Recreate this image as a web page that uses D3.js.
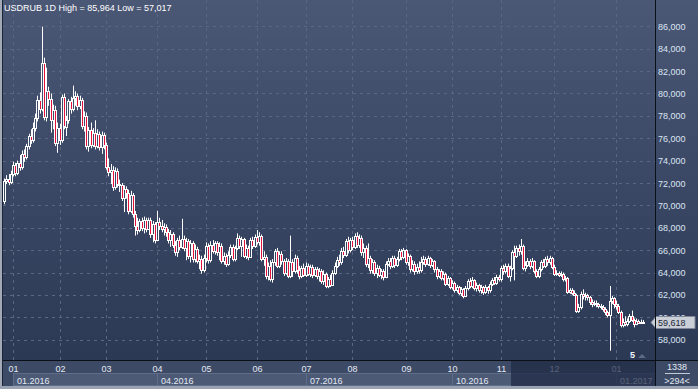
<!DOCTYPE html>
<html>
<head>
<meta charset="utf-8">
<script src="https://cdn.jsdelivr.net/npm/d3@7"></script>
<style>
  body { margin: 0; background: #2c3955; }
  svg { display: block; font-family: "Liberation Sans", Arial, sans-serif; }
</style>
</head>
<body>
<div id="chart"></div>
<script>
var title = "USDRUB 1D High = 85,964 Low = 57,017";

// daily candles, late Dec 2015 .. mid Jan 2017
var openP = [70.4,72.2,72.4,72.1,
  72.8,73.6,72.9,73.8,73.4,74.6,74.3,75.3,76.2,75.8,76.9,77.8,79.4,78.6,82.7,77.9,80.2,79.5,77.6,78.5,75.6,
  76.9,75.8,79.7,77.0,77.6,79.3,78.6,79.6,79.8,78.9,79.4,77.1,78.0,75.3,76.7,75.4,76.5,75.3,76.4,75.2,76.3,
  75.4,73.4,73.0,73.2,71.6,73.1,71.9,71.8,70.7,71.5,71.1,69.5,70.9,69.2,68.2,67.8,68.6,68.0,68.7,67.9,68.7,67.4,68.3,
  66.9,68.5,68.2,67.9,68.1,67.6,66.9,67.4,66.5,65.8,66.9,66.3,67.0,66.2,66.8,65.5,66.6,65.2,66.1,65.0,65.2,64.2,
  65.3,66.4,65.1,66.5,65.9,66.6,65.8,66.4,65.0,65.5,64.8,65.6,66.3,65.2,66.2,67.1,66.4,67.0,65.5,66.2,65.4,66.9,66.4,
  67.2,66.7,67.3,65.2,65.4,63.7,64.6,63.4,64.9,65.9,64.6,65.7,65.0,64.0,65.0,63.7,64.9,64.1,65.3,64.2,63.7,64.4,
  63.8,64.6,63.9,64.5,63.8,64.3,63.7,64.1,63.2,63.9,62.8,63.4,62.9,64.0,64.6,65.1,64.9,65.9,65.6,66.8,66.0,
  66.9,66.3,67.3,66.5,67.1,65.8,66.2,64.8,65.3,64.2,64.9,64.0,64.4,63.8,64.1,63.6,64.8,65.0,64.6,65.3,64.7,65.2,65.9,65.4,
  66.0,64.9,65.5,64.3,64.8,64.1,64.5,64.2,64.9,65.2,64.8,65.3,64.7,65.0,64.3,63.7,64.1,63.5,63.9,63.0,63.5,
  62.7,63.1,62.4,62.7,62.2,62.5,61.9,62.6,63.2,62.8,63.3,62.6,62.9,62.4,62.7,62.3,62.7,62.4,63.0,63.3,63.1,63.6,
  63.4,64.4,64.1,64.6,63.7,64.4,65.8,65.5,66.2,65.9,66.4,64.4,64.7,65.0,64.6,65.0,64.1,63.7,64.3,64.9,64.6,65.2,64.9,65.3,
  64.5,63.9,64.0,63.8,63.9,63.4,63.5,62.3,62.4,62.2,62.0,60.6,60.9,62.1,61.9,62.0,61.8,61.4,61.2,61.3,61.2,61.0,60.9,60.7,60.5,60.2,61.5,61.7,
  61.2,61.0,60.5,59.3,59.6,59.4,59.7,60.1,59.8,59.4,59.7,59.5,59.6];

var highP = [72.4,72.7,72.8,73.1,
  73.9,73.8,74.0,74.5,74.9,75.0,75.5,76.4,76.8,77.4,78.2,79.8,80.1,85.964,83.2,82.3,80.6,80.0,79.0,78.9,77.4,
  77.3,79.9,80.0,78.0,79.5,79.7,80.7,80.2,80.0,79.8,79.6,78.4,78.3,77.0,77.4,76.9,77.6,76.8,76.6,76.6,76.5,
  75.6,74.2,73.7,73.5,73.4,73.3,72.3,72.0,71.8,71.7,71.4,71.3,71.1,69.5,68.9,68.8,68.9,69.0,68.9,68.9,68.9,68.6,68.5,
  69.5,68.9,68.7,68.4,68.3,67.9,67.8,67.6,66.8,67.1,67.3,68.8,67.3,67.1,67.0,66.9,66.8,66.5,66.3,65.6,65.5,65.6,
  66.7,66.6,66.8,66.9,66.8,66.8,66.7,66.6,65.8,65.7,65.9,66.5,66.5,66.4,67.5,67.3,67.2,67.1,66.5,66.4,67.1,67.2,67.4,
  67.8,67.6,67.4,65.9,65.6,64.9,65.1,65.2,66.1,66.2,65.9,65.9,65.2,65.3,65.2,67.3,65.2,65.6,65.5,64.6,64.6,64.8,
  64.9,64.8,64.7,64.7,64.5,64.5,64.4,64.3,64.2,64.0,63.6,63.8,64.2,64.9,65.4,65.6,66.2,66.3,67.0,67.2,67.1,
  67.2,67.5,67.6,67.4,67.3,66.6,66.4,66.6,65.5,65.2,65.1,64.7,64.6,64.3,64.3,65.0,65.3,65.3,65.5,65.5,65.4,66.1,66.1,66.2,
  66.1,65.7,65.6,65.1,65.0,64.8,65.0,65.4,65.5,65.4,65.5,65.4,65.2,65.1,64.5,64.3,64.3,64.1,64.0,63.7,63.6,
  63.3,63.2,62.9,62.8,62.7,62.6,62.8,63.4,63.5,63.6,63.4,63.1,63.0,62.9,62.8,62.9,62.8,63.2,63.5,63.6,63.8,63.8,
  64.6,64.7,64.8,64.8,64.6,66.0,66.4,66.4,66.5,67.0,66.5,65.0,65.3,65.2,65.3,65.1,64.3,64.5,65.1,65.2,65.4,65.5,65.5,65.4,
  64.7,64.2,64.1,64.1,64.0,63.7,63.6,62.6,62.6,62.4,62.1,61.2,62.3,62.5,62.2,62.1,61.9,61.6,61.5,61.5,61.3,61.2,61.1,60.9,60.6,62.8,61.9,61.8,
  61.5,61.2,60.6,59.9,60.1,59.9,60.3,60.6,59.9,59.9,59.8,59.8,59.75];

var lowP = [70.1,71.9,71.8,71.9,
  72.6,72.6,72.7,73.1,73.2,73.9,74.1,75.0,75.5,75.6,76.6,77.5,78.2,78.4,77.6,77.5,78.9,76.5,76.8,75.3,74.7,
  75.4,75.6,76.8,76.2,77.3,78.2,78.4,78.9,78.5,78.6,76.8,76.6,75.0,74.8,75.1,75.2,75.0,75.1,74.9,74.6,75.0,
  73.2,72.6,71.9,71.3,71.4,71.6,71.2,70.4,69.4,70.6,69.2,69.3,68.9,67.3,67.4,67.6,67.7,67.5,67.6,67.8,67.1,66.7,66.6,
  66.8,67.8,67.6,67.3,67.2,66.6,66.3,66.2,65.5,65.4,66.0,66.1,65.9,65.1,65.2,64.9,64.9,64.9,64.8,64.3,63.9,64.0,
  64.9,64.8,64.9,65.7,65.6,65.5,65.1,64.8,64.7,64.5,64.6,65.3,65.0,65.0,66.0,66.1,65.4,65.3,65.2,65.1,65.3,66.1,66.2,
  66.5,66.4,65.0,64.6,63.4,63.3,63.2,63.1,64.6,64.4,64.4,64.7,63.7,63.8,63.5,63.5,63.6,63.9,63.9,63.4,63.5,63.6,
  63.6,63.7,63.6,63.5,63.6,63.4,63.2,63.0,62.9,62.6,62.6,62.7,62.8,63.8,64.4,64.6,64.7,65.3,65.4,65.7,65.8,
  66.0,66.1,66.2,66.2,65.5,65.3,64.5,64.4,63.9,63.9,63.7,63.5,63.6,63.4,63.3,63.5,64.6,64.3,64.4,64.4,64.5,65.0,65.1,65.2,
  64.7,64.6,64.0,64.1,63.8,63.9,63.9,64.0,64.7,64.5,64.6,64.4,64.5,64.0,63.4,63.5,63.3,63.3,62.8,62.8,62.5,
  62.5,62.2,62.2,62.0,61.9,61.7,61.8,62.4,62.6,62.6,62.4,62.3,62.2,62.1,62.0,62.1,62.1,62.2,62.8,62.9,62.9,63.2,
  63.2,63.8,63.9,63.5,63.2,64.2,63.3,65.3,65.5,65.6,64.2,64.1,64.5,64.3,64.4,63.9,63.5,63.5,64.1,64.4,64.4,64.6,64.7,64.3,
  63.7,63.7,63.6,63.6,63.2,63.2,62.1,62.1,62.0,61.9,60.4,60.4,60.7,61.6,61.5,61.5,61.1,60.9,61.0,60.9,60.8,60.7,60.5,60.2,60.0,57.017,61.2,60.8,
  60.7,60.3,59.1,59.1,59.2,59.2,59.5,59.6,59.1,59.3,59.4,59.4,59.5];

var closeP = [72.2,72.4,72.1,72.8,
  73.6,72.9,73.8,73.4,74.6,74.3,75.3,76.2,75.8,76.9,77.8,79.4,78.6,82.7,77.9,80.2,79.5,77.6,78.5,75.6,76.9,
  75.8,79.7,77.1,77.6,79.3,78.6,79.6,79.8,78.9,79.4,77.1,78.0,75.3,76.7,75.4,76.5,75.3,76.4,75.2,76.3,75.4,
  73.4,73.0,73.2,71.6,73.1,71.9,71.8,70.7,71.5,71.1,69.5,70.9,69.2,68.2,67.8,68.6,68.0,68.7,67.9,68.7,67.4,68.3,66.9,
  68.5,68.2,67.9,68.1,67.6,66.9,67.4,66.5,65.8,66.9,66.3,67.0,66.2,66.8,65.5,66.6,65.2,66.1,65.0,65.2,64.2,65.3,
  66.4,65.1,66.5,65.9,66.6,65.8,66.4,65.0,65.5,64.8,65.6,66.3,65.2,66.2,67.1,66.4,67.0,65.5,66.2,65.4,66.9,66.4,67.2,
  66.7,67.3,65.2,65.4,63.7,64.6,63.4,64.9,65.9,64.6,65.7,65.0,64.0,65.0,63.7,64.9,64.1,65.3,64.2,63.7,64.4,63.8,
  64.6,63.9,64.5,63.8,64.3,63.7,64.1,63.2,63.9,62.8,63.4,62.9,64.0,64.6,65.1,64.9,65.9,65.6,66.8,66.0,66.9,
  66.3,67.3,66.5,67.1,65.8,66.2,64.8,65.3,64.2,64.9,64.0,64.4,63.8,64.1,63.6,64.8,65.0,64.6,65.3,64.7,65.2,65.9,65.4,66.0,
  64.9,65.5,64.3,64.8,64.1,64.5,64.2,64.9,65.2,64.8,65.3,64.7,65.0,64.3,63.7,64.1,63.5,63.9,63.0,63.5,62.7,
  63.1,62.4,62.7,62.2,62.5,61.9,62.6,63.2,62.8,63.3,62.6,62.9,62.4,62.7,62.3,62.7,62.4,63.0,63.3,63.1,63.6,63.4,
  64.4,64.1,64.6,63.7,64.4,65.8,65.5,66.2,65.9,66.4,64.4,64.7,65.0,64.6,65.0,64.1,63.7,64.3,64.9,64.6,65.2,64.9,65.3,64.5,
  63.9,64.0,63.8,63.9,63.4,63.5,62.3,62.4,62.2,62.0,60.6,60.9,62.1,61.9,62.0,61.8,61.4,61.2,61.3,61.2,61.0,60.9,60.7,60.5,60.2,61.5,61.7,61.2,
  61.0,60.5,59.3,59.6,59.4,59.7,60.1,59.8,59.4,59.7,59.5,59.6,59.618];

// first bar of each month (bar index) and its label
var monthStart = [4, 25, 46, 69, 91, 114, 136, 157, 181, 202, 224, 248, 276];
var monthLabels = ["01","02","03","04","05","06","07","08","09","10","11","12","01"];
var quarterMonth = [0, 3, 6, 9, 12];
var quarterLabels = ["01.2016","04.2016","07.2016","10.2016","01.2017"];
var yTicks = [58,60,62,64,66,68,70,72,74,76,78,80,82,84,86];
var slots = 294;

var width = 698, height = 389,
    plotL = 3, plotR = 655, plotB = 360;

var svg = d3.select("#chart").append("svg")
    .attr("width", width)
    .attr("height", height);

var defs = svg.append("defs");
var grad = defs.append("linearGradient")
    .attr("id", "bg")
    .attr("gradientUnits", "userSpaceOnUse")
    .attr("x1", 0).attr("y1", 0).attr("x2", 0).attr("y2", plotB);
grad.append("stop").attr("offset", 0).attr("stop-color", "#4a5775");
grad.append("stop").attr("offset", 1).attr("stop-color", "#2c3955");

svg.append("rect").attr("width", width).attr("height", plotB).attr("fill", "url(#bg)");

var x = d3.scaleBand().domain(d3.range(slots)).range([plotL, plotR]);
var y = d3.scaleLinear().domain([58, 86]).range([339.7, 26.3]);
var cx = function(i) { return Math.round(x(i) + x.bandwidth() / 2); };
var fmt = function(v) { return v.toFixed(3).replace(".", ","); };

// grid
svg.append("g").selectAll("line")
    .data(yTicks).enter().append("line")
    .attr("x1", plotL).attr("x2", plotR)
    .attr("y1", function(d) { return Math.round(y(d)) + 0.5; })
    .attr("y2", function(d) { return Math.round(y(d)) + 0.5; })
    .attr("stroke", "#5a6783").attr("stroke-dasharray", "3,4");

svg.append("g").selectAll("line")
    .data(monthStart).enter().append("line")
    .attr("x1", function(d) { return cx(d) + 0.5; })
    .attr("x2", function(d) { return cx(d) + 0.5; })
    .attr("y1", 0).attr("y2", plotB)
    .attr("stroke", "#5a6783").attr("stroke-dasharray", "3,4");

// candles
var bars = d3.range(closeP.length);
var cg = svg.append("g");
cg.selectAll("line")
    .data(bars).enter().append("line")
    .attr("x1", function(i) { return cx(i) + 0.5; })
    .attr("x2", function(i) { return cx(i) + 0.5; })
    .attr("y1", function(i) { return y(highP[i]); })
    .attr("y2", function(i) { return y(lowP[i]); })
    .attr("stroke", "#ffffff");

cg.selectAll("rect")
    .data(bars).enter().append("rect")
    .attr("x", function(i) { return cx(i) - 0.5; })
    .attr("y", function(i) { return Math.round(y(Math.max(openP[i], closeP[i]))) + 0.5; })
    .attr("width", 2)
    .attr("height", function(i) {
      return Math.max(1, Math.round(y(Math.min(openP[i], closeP[i]))) - Math.round(y(Math.max(openP[i], closeP[i]))));
    })
    .attr("fill", function(i) { return closeP[i] < openP[i] ? "#e3123c" : "url(#bg)"; })
    .attr("stroke", "#ffffff");

svg.append("text").text(title)
    .attr("x", 4).attr("y", 11)
    .attr("fill", "#ffffff").style("font-size", "9px");

// right price axis
svg.append("rect").attr("x", 656).attr("width", width - 656).attr("height", plotB).attr("fill", "url(#bg)");
svg.append("g").selectAll("text")
    .data(yTicks).enter().append("text")
    .text(function(d) { return fmt(d); })
    .attr("x", 658)
    .attr("y", function(d) { return y(d) + 3.5; })
    .attr("fill", "#dbe5f3").style("font-size", "9px");

// current price marker
var last = closeP[closeP.length - 1], yl = Math.round(y(last)) + 0.5;
svg.append("path")
    .attr("d", "M651," + yl + "L656," + (yl - 6) + "H695V" + (yl + 6) + "H656Z")
    .attr("fill", "#c9ced7").attr("stroke", "#7e8698");
svg.append("text").text(fmt(last))
    .attr("x", 658).attr("y", yl + 3.5)
    .attr("fill", "#1e2636").style("font-size", "9px");

// bottom time strip
svg.append("rect").attr("x", 0).attr("y", plotB).attr("width", width).attr("height", height - plotB).attr("fill", "#3d4a65");

svg.append("g").selectAll("rect")
    .data(quarterMonth).enter().append("rect")
    .attr("x", function(d) { return cx(monthStart[d]) + 0.5; })
    .attr("y", 373.5)
    .attr("width", function(d, i) {
      var next = i < quarterMonth.length - 1 ? cx(monthStart[quarterMonth[i + 1]]) : plotR;
      return next - cx(monthStart[d]);
    })
    .attr("height", 12)
    .attr("fill", "#4c5a76").attr("stroke", "#5f6d89");

svg.append("g").selectAll("text")
    .data(monthLabels).enter().append("text")
    .text(function(d) { return d; })
    .attr("x", function(d, i) { return cx(monthStart[i]) + 0.5; })
    .attr("y", 371.5)
    .attr("text-anchor", "middle")
    .attr("fill", "#e2e9f4").style("font-size", "9px");

svg.append("g").selectAll("text")
    .data(quarterLabels).enter().append("text")
    .text(function(d) { return d; })
    .attr("x", function(d, i) { return cx(monthStart[quarterMonth[i]]) + 4; })
    .attr("y", 383.5)
    .attr("fill", "#e2e9f4").style("font-size", "9px");

// dimmed range at the right end of the strip
svg.append("rect").attr("x", 511).attr("y", 361).attr("width", plotR - 511).attr("height", 25)
    .attr("fill", "#1f2a44").attr("fill-opacity", 0.72);

svg.append("text").text("1338").attr("x", 677).attr("y", 369.5)
    .attr("text-anchor", "middle").attr("fill", "#e2e9f4").style("font-size", "9px");
svg.append("line").attr("x1", 665).attr("x2", 690).attr("y1", 373.5).attr("y2", 373.5).attr("stroke", "#c3cbd8");
svg.append("text").text(">294<").attr("x", 677).attr("y", 383.5)
    .attr("text-anchor", "middle").attr("fill", "#e2e9f4").style("font-size", "9px");

svg.append("text").text("5").attr("x", 630).attr("y", 358)
    .attr("fill", "#f0f4fa").style("font-size", "9px").style("font-weight", "bold");
svg.append("path").attr("d", "M638,358L646,358L642,354Z").attr("fill", "#5d6a84");

// frame lines
svg.append("line").attr("x1", 0).attr("x2", width).attr("y1", plotB + 0.5).attr("y2", plotB + 0.5).attr("stroke", "#0b0f18");
svg.append("line").attr("x1", 655.5).attr("x2", 655.5).attr("y1", 0).attr("y2", height).attr("stroke", "#0b0f18");
svg.append("rect").attr("x", 0).attr("y", 0).attr("width", 2).attr("height", height).attr("fill", "#a2aab8");
svg.append("line").attr("x1", 2.5).attr("x2", 2.5).attr("y1", 0).attr("y2", height).attr("stroke", "#1c2538");
svg.append("rect").attr("x", 0).attr("y", 386).attr("width", width).attr("height", 3).attr("fill", "#9aa3b3");
</script>
</body>
</html>
